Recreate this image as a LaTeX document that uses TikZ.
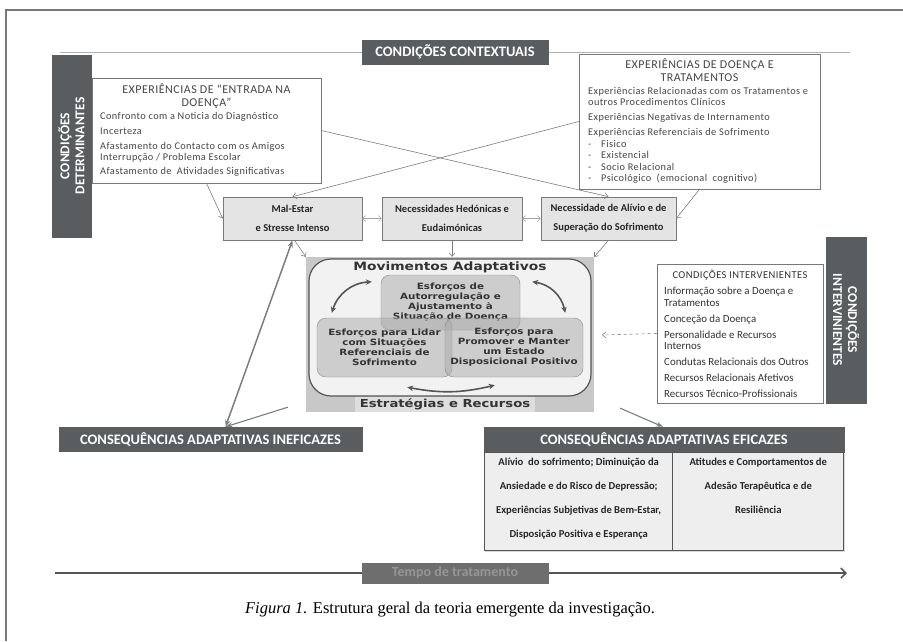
\documentclass[tikz,border=0pt]{standalone}
\usepackage{fontspec}
\setmainfont{Carlito}
\newfontfamily\thinfont[LetterSpace=4]{Carlito}
\newfontfamily\wideboldfont[FakeStretch=1.2]{DejaVu Sans Bold}
\newfontfamily\captionfont{Liberation Serif}
\usetikzlibrary{arrows.meta, positioning, calc, shadows}
\definecolor{gBar}{RGB}{89,93,95}
\definecolor{gFrame}{RGB}{120,120,120}
\definecolor{gLine}{RGB}{125,125,125}
\definecolor{gDark}{RGB}{85,85,85}
\definecolor{gCell}{RGB}{228,228,228}
\definecolor{gOuter}{RGB}{200,200,200}
\definecolor{gInner}{RGB}{242,242,242}
\definecolor{gBlob}{RGB}{170,170,170}
\definecolor{gLabel}{RGB}{222,222,222}
\definecolor{gBody}{RGB}{238,238,238}
\definecolor{gInk}{RGB}{70,70,70}
\definecolor{gTime}{RGB}{150,150,150}
\tikzset{
  darkbar/.style={
    rectangle, fill=gBar, draw=gBar, text=white,
    align=center, inner sep=0pt, font=\fontsize{14.5}{16}\selectfont\bfseries,
    drop shadow={shadow xshift=1pt, shadow yshift=-1.2pt, fill=black, opacity=0.15}
  },
  listbox/.style={
    rectangle, draw=gFrame, line width=0.6pt, fill=white, inner sep=0pt
  },
  listhead/.style={
    align=center, inner sep=0pt, text=gInk, font=\thinfont\fontsize{12}{13}\selectfont
  },
  listbody/.style={
    anchor=north west, align=left, inner sep=0pt, text=gInk, font=\thinfont\fontsize{10.3}{11.5}\selectfont
  },
  needbox/.style={
    rectangle, fill=gCell, draw=gFrame, line width=0.6pt,
    drop shadow={shadow xshift=1.2pt, shadow yshift=-1.4pt, fill=black, opacity=0.2},
    align=center, inner sep=0pt, minimum height=43pt, text=black!85,
    font=\fontsize{10.5}{19}\selectfont\bfseries
  },
  blob/.style={
    rectangle, rounded corners=9pt, draw=gBlob!80!black, fill=gBlob, fill opacity=0.5,
    text opacity=1, text=black!80, align=center, inner sep=0pt,
    font=\wideboldfont\fontsize{8.6}{10}\selectfont
  },
  widelabel/.style={inner sep=0pt, text=black!80, font=\wideboldfont\fontsize{11.5}{13}\selectfont},
  efftext/.style={align=center, inner sep=0pt, text=black!85, font=\fontsize{10.6}{24}\selectfont\bfseries},
  thinarrow/.style={-{Straight Barb[length=3.5pt,width=6pt]}, gLine, line width=0.6pt},
  bothway/.style={{Straight Barb[length=3pt,width=6pt]}-{Straight Barb[length=3pt,width=6pt]}, gLine!70, line width=0.5pt},
  curvearrow/.style={{Stealth[length=6pt,width=5.5pt]}-{Stealth[length=6pt,width=5.5pt]}, gDark, line width=1.6pt},
  bigarrow/.style={{Stealth[length=7pt,width=5pt]}-{Stealth[length=7pt,width=5pt]}, gLine, line width=1.5pt},
  midarrow/.style={-{Stealth[length=7pt,width=5pt]}, gLine, line width=1.1pt}
}
\begin{document}
\begin{tikzpicture}[x=1pt, y=-1pt]
\useasboundingbox (0,0) rectangle (903,641);
% page frame
\draw[gFrame, line width=1.1pt] (6,641) -- (6,10) -- (903,10);
% contextual conditions
\coordinate (ctxL) at (60,52);
\coordinate (ctxR) at (850,52);
\draw[gLine!60, line width=0.8pt] (ctxL) -- (ctxR);
\node[darkbar, minimum width=186pt, minimum height=24pt] (ctx) at (455,52) {CONDIÇÕES CONTEXTUAIS};
\node[darkbar, rotate=90, minimum width=182pt, minimum height=39pt, font=\fontsize{13.5}{15}\selectfont\bfseries] (detbar) at (71.5,146) {CONDIÇÕES\\DETERMINANTES};
\node[darkbar, rotate=-90, minimum width=166pt, minimum height=40pt, font=\fontsize{13.5}{15}\selectfont\bfseries] (intbar) at (846,320) {CONDIÇÕES\\INTERVINIENTES};

% experience boxes
\node[listbox, minimum width=229pt, minimum height=105pt] (entry) at (206.5,130.5) {};
\node[listhead, below=6pt of entry.north] (entryhead) {EXPERIÊNCIAS DE “ENTRADA NA\\DOENÇA”};
\node[listbody] (entrylist) at (100,112) {Confronto com a Noticia do Diagnóstico\\[4pt]Incerteza\\[3pt]Afastamento do Contacto com os Amigos\\Interrupção / Problema Escolar\\[2pt]Afastamento de \ Atividades Significativas};

\node[listbox, minimum width=241pt, minimum height=135pt] (illness) at (699.5,121.5) {};
\node[listhead, below=5pt of illness.north] (illnesshead) {EXPERIÊNCIAS DE DOENÇA E\\TRATAMENTOS};
\node[listbody] (illnesslist) at (588,87) {Experiências Relacionadas com os Tratamentos e\\outros Procedimentos Clínicos\\[3.5pt]Experiências Negativas de Internamento\\[3.5pt]Experiências Referenciais de Sofrimento\\\makebox[13pt][l]{-}Fisico\\\makebox[13pt][l]{-}Existencial\\\makebox[13pt][l]{-}Socio Relacional\\\makebox[13pt][l]{-}Psicológico \ (emocional \ cognitivo)};

% needs
\node[needbox, minimum width=139pt] (distress) at (292.5,218.5) {Mal-Estar\\e Stresse Intenso};
\node[needbox, minimum width=140pt] (hedonic) at (452,218.5) {Necessidades Hedónicas e\\Eudaimónicas};
\node[needbox, minimum width=135pt] (relief) at (608.5,218.5) {Necessidade de Alívio e de\\Superação do Sofrimento};
\draw[bothway] (distress.east) -- (hedonic.west);
\draw[bothway] (hedonic.east) -- (relief.west);

\draw[thinarrow] (entry.south) -- (distress.west);
\draw[thinarrow] (entry.east) -- (relief.north);
\draw[thinarrow] (illness.west) -- (distress.north);
\draw[thinarrow] (illness.south) -- (relief.east);

% adaptive movements
\node[rectangle, fill=gOuter, minimum width=288pt, minimum height=155pt] (outer) at (450,334.5) {};
\node[rectangle, rounded corners=22pt, draw=gDark, line width=1.2pt, fill=gInner, minimum width=282pt, minimum height=137pt] (arena) at (450,327.5) {};
\node[widelabel] (moves) at (450,267) {Movimentos Adaptativos};
\node[blob, minimum width=139pt, minimum height=55pt] (selfreg) at (450.5,302.5) {Esforços de\\Autorregulação e\\Ajustamento à\\Situação de Doença};
\node[blob, minimum width=135pt, minimum height=59pt] (cope) at (384.5,347.5) {Esforços para Lidar\\com Situações\\Referenciais de\\Sofrimento};
\node[blob, minimum width=138pt, minimum height=59pt] (promote) at (514,347.5) {Esforços para\\Promover e Manter\\um Estado\\Disposicional Positivo};
\draw[curvearrow] ($(selfreg.north west)+(-9,7)$) to[bend right=35] ($(cope.north west)+(15,-5)$);
\draw[curvearrow] ($(selfreg.north east)+(12,7)$) to[bend left=35] ($(promote.north east)+(-18,-5)$);
\draw[curvearrow] ($(cope.south east)+(-45,10)$) to[bend right=12] ($(promote.south west)+(50,8)$);
\node[fill=gLabel, minimum width=180pt, minimum height=15pt, inner sep=0pt, widelabel, font=\wideboldfont\fontsize{11}{13}\selectfont] (tools) at (445,404) {Estratégias e Recursos};

\draw[thinarrow] (hedonic.south) -- (hedonic.south |- outer.north);
\draw[thinarrow] ($(distress.south)+(2,0)$) -- (outer.north west);
\draw[thinarrow] (relief.south) -- (outer.north east);

% intervening conditions
\node[listbox, minimum width=166pt, minimum height=139pt] (interv) at (740,333.5) {};
\node[listhead, below=6pt of interv.north, text=black!80, font=\thinfont\fontsize{10.5}{12}\selectfont] (intervhead) {CONDIÇÕES INTERVENIENTES};
\node[listbody, text=black!80, font=\fontsize{10.9}{11.5}\selectfont] (intervlist) at (664,287) {Informação sobre a Doença e\\Tratamentos\\[4.5pt]Conceção da Doença\\[4.5pt]Personalidade e Recursos\\Internos\\[4pt]Condutas Relacionais dos Outros\\[4.5pt]Recursos Relacionais Afetivos\\[4.5pt]Recursos Técnico-Profissionais};
\coordinate (intervtip) at (602,335);
\draw[thinarrow, dashed] (interv.west) -- (intervtip);

% consequences
\node[darkbar, minimum width=303pt, minimum height=24pt] (ineffective) at (210.5,439) {CONSEQUÊNCIAS ADAPTATIVAS INEFICAZES};
\coordinate (ineftip) at ($(ineffective.north)+(15,0)$);
\draw[bigarrow] (ineftip) -- (distress.south);
\draw[midarrow] ($(outer.south west)+(-18,-5)$) -- (ineftip);

\node[darkbar, minimum width=360pt, minimum height=25pt] (effhead) at (664,439.5) {CONSEQUÊNCIAS ADAPTATIVAS EFICAZES};
\node[rectangle, fill=gBody, draw=gDark, line width=0.8pt, minimum width=189pt, minimum height=98pt, anchor=north west,
  drop shadow={shadow xshift=1pt, shadow yshift=-1.2pt, fill=black, opacity=0.15}] (effleft) at (effhead.south west) {};
\node[rectangle, fill=gBody, draw=gDark, line width=0.8pt, minimum width=171pt, minimum height=98pt, anchor=north east,
  drop shadow={shadow xshift=1pt, shadow yshift=-1.2pt, fill=black, opacity=0.15}] (effright) at (effhead.south east) {};
\node[efftext, below=6pt of effleft.north] (effleftText) {Alívio \ do sofrimento; Diminuição da\\Ansiedade e do Risco de Depressão;\\Experiências Subjetivas de Bem-Estar,\\Disposição Positiva e Esperança};
\node[efftext, below=6pt of effright.north] (effrightText) {Atitudes e Comportamentos de\\Adesão Terapêutica e de\\Resiliência};
\draw[midarrow] ($(outer.south east)+(26,-4)$) -- ($(effhead.north)+(-1,0)$);

% treatment time
\coordinate (timeStart) at (55,573);
\coordinate (timeEnd) at (847,573);
\draw[-{Straight Barb[length=5pt,width=10pt]}, gDark, line width=1.6pt] (timeStart) -- (timeEnd);
\node[darkbar, fill=gDark!85, draw=gDark!85, minimum width=186pt, minimum height=20pt, text=gTime, font=\fontsize{14}{16}\selectfont\bfseries] (timebox) at (455,573) {Tempo de tratamento};

\node[font=\captionfont\fontsize{16.5}{18}\selectfont] (caption) at (450,610) {\textit{Figura 1.} Estrutura geral da teoria emergente da investigação.};
\end{tikzpicture}
\end{document}
